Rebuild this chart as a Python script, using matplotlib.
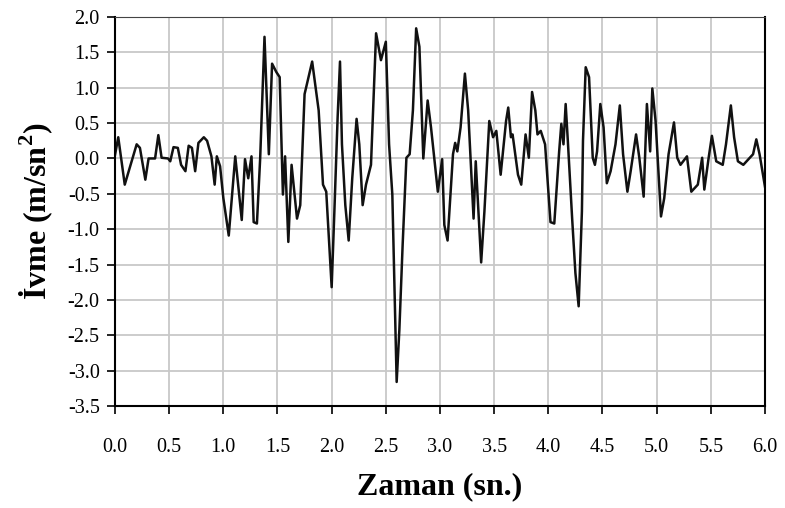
import matplotlib
matplotlib.use("Agg")
import matplotlib.pyplot as plt

# zaman (sn.) ve ivme (m/sn^2) degerleri
zaman = [0.0, 0.03, 0.09, 0.15, 0.2, 0.23, 0.28, 0.31, 0.37, 0.40, 0.43, 0.49, 0.51,
         0.54, 0.58, 0.61, 0.65, 0.68, 0.71, 0.74, 0.77, 0.82, 0.85, 0.89, 0.92,
         0.94, 0.97, 1.0, 1.05, 1.11, 1.17, 1.2, 1.23, 1.26, 1.28, 1.31, 1.34,
         1.38, 1.42, 1.45, 1.49, 1.52, 1.55, 1.57, 1.6, 1.63, 1.68, 1.71, 1.75,
         1.82, 1.88, 1.92, 1.95, 2.0, 2.025, 2.055, 2.077, 2.095, 2.126, 2.157,
         2.19, 2.23, 2.255, 2.286, 2.317, 2.363, 2.41, 2.455, 2.5, 2.53, 2.56,
         2.6, 2.625, 2.655, 2.69, 2.72, 2.75, 2.78, 2.81, 2.846, 2.886, 2.917,
         2.98, 3.02, 3.04, 3.07, 3.12, 3.14, 3.16, 3.19, 3.23, 3.26, 3.31, 3.33,
         3.38, 3.41, 3.455, 3.49, 3.52, 3.56, 3.61, 3.63, 3.655, 3.67, 3.72,
         3.75, 3.79, 3.82, 3.85, 3.88, 3.9, 3.93, 3.97, 4.02, 4.055, 4.1, 4.12,
         4.14, 4.16, 4.18, 4.22, 4.25, 4.28, 4.31, 4.32, 4.345, 4.376, 4.41,
         4.43, 4.45, 4.48, 4.51, 4.54, 4.575, 4.62, 4.66, 4.69, 4.73, 4.76,
         4.81, 4.84, 4.88, 4.91, 4.94, 4.96, 4.99, 5.04, 5.07, 5.11, 5.16, 5.19,
         5.22, 5.28, 5.32, 5.38, 5.42, 5.44, 5.48, 5.51, 5.55, 5.61, 5.64, 5.685,
         5.715, 5.75, 5.8, 5.86, 5.89, 5.92, 5.95, 6.0]
ivme = [0.05, 0.3, -0.37, -0.06, 0.2, 0.15, -0.3, 0.0, 0.0, 0.33, 0.01, 0.0, -0.04,
        0.16, 0.15, -0.09, -0.18, 0.18, 0.15, -0.18, 0.22, 0.3, 0.25, 0.03, -0.37,
        0.03, -0.11, -0.56, -1.09, 0.03, -0.87, -0.01, -0.28, 0.03, -0.9, -0.92, 0.0,
        1.72, 0.06, 1.34, 1.22, 1.15, -0.51, 0.03, -1.18, -0.09, -0.85, -0.66, 0.91,
        1.37, 0.68, -0.37, -0.47, -1.82, -0.75, 0.58, 1.37, 0.2, -0.66, -1.16,
        -0.28, 0.56, 0.2, -0.66, -0.37, -0.09, 1.77, 1.39, 1.65, 0.2, -0.51,
        -3.16, -2.42, -1.23, 0.01, 0.06, 0.68, 1.84, 1.58, 0.0, 0.82, 0.44,
        -0.47, -0.01, -0.94, -1.16, 0.06, 0.22, 0.1, 0.44, 1.2, 0.68, -0.85, -0.04,
        -1.47, -0.75, 0.53, 0.3, 0.39, -0.23, 0.53, 0.72, 0.3, 0.34, -0.23,
        -0.37, 0.34, 0.01, 0.94, 0.68, 0.34, 0.39, 0.2, -0.9, -0.92, 0.1, 0.49,
        0.2, 0.77, 0.25, -0.85, -1.62, -2.09, -0.75, 0.25, 1.29, 1.15, 0.01,
        -0.09, 0.1, 0.77, 0.44, -0.35, -0.18, 0.2, 0.75, 0.06, -0.47, -0.18,
        0.34, 0.01, -0.54, 0.77, 0.1, 0.99, 0.53, -0.82, -0.56, 0.06, 0.51, 0.01,
        -0.09, 0.03, -0.47, -0.37, 0.01, -0.44, 0.01, 0.32, -0.04, -0.09, 0.2, 0.75,
        0.3, -0.04, -0.09, 0.01, 0.06, 0.27, 0.06, -0.4]

xticks = [0.0, 0.5, 1.0, 1.5, 2.0, 2.5, 3.0, 3.5, 4.0, 4.5, 5.0, 5.5, 6.0]
yticks = [2.0, 1.5, 1.0, 0.5, 0.0, -0.5, -1.0, -1.5, -2.0, -2.5, -3.0, -3.5]

plt.rcParams['font.family'] = ['Liberation Serif', 'DejaVu Serif']
plt.rcParams['mathtext.fontset'] = 'custom'
plt.rcParams['mathtext.bf'] = 'Liberation Serif:bold'

fig = plt.figure(figsize=(7.85, 5.08), dpi=100)
ax = fig.add_axes([0.1465, 0.2008, 0.828, 0.7657])

ax.plot(zaman, ivme, color='#111111', lw=1.8)

ax.set_xlim(0, 6)
ax.set_ylim(-3.5, 2.0)
ax.set_xticks(xticks)
ax.set_yticks(yticks)
ax.set_xticklabels(['%.1f' % v for v in xticks])
ax.set_yticklabels(['%.1f' % v for v in yticks])
ax.grid(True, color='#c8c8c8', lw=1.3)
ax.set_axisbelow(True)

ax.tick_params(axis='both', labelsize=14.5, length=6, width=1.2, color='black')
ax.tick_params(axis='y', pad=5)
ax.tick_params(axis='x', pad=17)
for s in ['left', 'bottom', 'right']:
    ax.spines[s].set_linewidth(1.5)
ax.spines['top'].set_color('#444444')

ax.set_xlabel('Zaman (sn.)', fontsize=23, fontweight='bold', labelpad=11)
ax.set_ylabel('İvme (m/sn$^\\mathbf{2}$)', fontsize=23, fontweight='bold', labelpad=9)

fig.savefig('out.png', dpi=100)
